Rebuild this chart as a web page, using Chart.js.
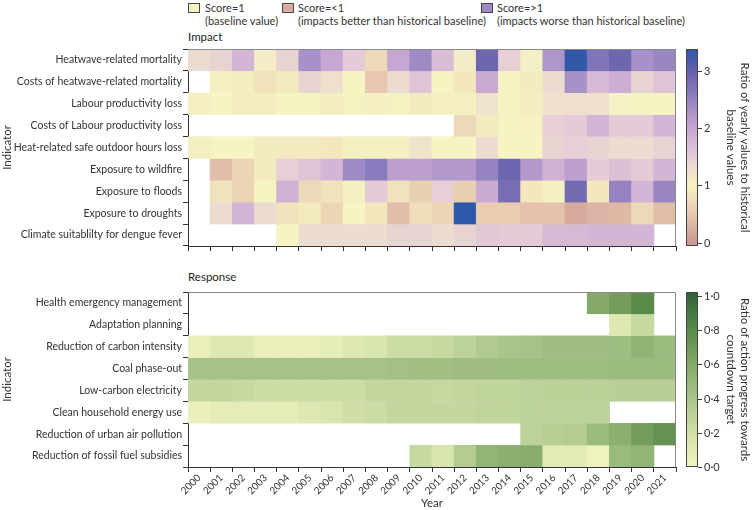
<!DOCTYPE html>
<html>
<head>
<meta charset="utf-8">
<script src="https://cdn.jsdelivr.net/npm/chart.js@4.4.1/dist/chart.umd.min.js"></script>
<style>
  body { margin: 0; width: 753px; height: 510px; position: relative; background: #fff; overflow: hidden;
         font-family: Lato, "Liberation Sans", sans-serif; color: #333; }
  .panel { position: absolute; left: 0; width: 753px; }
  .lg { position: absolute; font-size: 11px; line-height: 13px; white-space: nowrap; color: #333; }
  .sw { position: absolute; width: 10px; height: 8px; border: 1px solid #444; }
  .ttl { position: absolute; left: 188px; font-size: 11.5px; color: #222; }
</style>
</head>
<body>
<div class="sw" style="left:188px;top:3px;background:#f6f2c4"></div>
<div class="lg" style="left:205px;top:1px">Score=1<br>(baseline value)</div>
<div class="sw" style="left:282px;top:3px;background:#d8aba3"></div>
<div class="lg" style="left:298px;top:1px">Score=&lt;1<br>(impacts better than historical baseline)</div>
<div class="sw" style="left:481px;top:3px;background:#a189c6"></div>
<div class="lg" style="left:497px;top:1px">Score=&gt;1<br>(impacts worse than historical baseline)</div>

<div class="ttl" style="top:30px">Impact</div>
<div class="ttl" style="top:270px">Response</div>

<div class="panel" style="top:40px;height:215px"><canvas id="impact"></canvas></div>
<div class="panel" style="top:282px;height:228px"><canvas id="response"></canvas></div>

<script>
var years = ["2000", "2001", "2002", "2003", "2004", "2005", "2006", "2007", "2008", "2009", "2010",
             "2011", "2012", "2013", "2014", "2015", "2016", "2017", "2018", "2019", "2020", "2021"];

var impactLabels = ["Heatwave-related mortality", "Costs of heatwave-related mortality", "Labour productivity loss",
                    "Costs of Labour productivity loss", "Heat-related safe outdoor hours loss", "Exposure to wildfire",
                    "Exposure to floods", "Exposure to droughts", "Climate suitablilty for dengue fever"];
var responseLabels = ["Health emergency management", "Adaptation planning", "Reduction of carbon intensity",
                      "Coal phase-out", "Low-carbon electricity", "Clean household energy use",
                      "Reduction of urban air pollution", "Reduction of fossil fuel subsidies"];

// impact: ratio of yearly values to historical baseline
var heatwaveMortality = [1.3, 1.4, 1.8, 1.1, 1.4, 2.3, 2.0, 1.5, 0.7, 2.0, 2.4, 1.7, 1.1, 2.9, 1.45, 1.05, 2.25, 3.35, 2.7, 2.9, 2.3, 2.45];
var heatwaveCosts     = [null, 0.95, 0.92, 0.8, 0.9, 1.4, 1.25, 1.0, 0.5, 1.3, 1.6, 1.0, 0.85, 1.95, 1.0, 0.9, 1.3, 2.3, 1.75, 1.9, 1.4, 1.6];
var labourLoss        = [0.95, 1.0, 0.92, 0.92, 1.0, 1.0, 0.92, 0.98, 0.95, 0.98, 0.9, 0.95, 0.95, 1.2, 1.0, 0.92, 1.25, 1.25, 1.25, 1.02, 1.0, 1.0];
var labourCosts       = [null, null, null, null, null, null, null, null, null, null, null, null, 0.7, 0.9, 1.0, 0.97, 1.45, 1.5, 1.8, 1.5, 1.5, 1.8];
var safeHoursLoss     = [0.95, 1.0, 1.0, 0.9, 0.9, 0.9, 0.85, 0.95, 0.95, 0.95, 1.2, 1.0, 1.0, 1.3, 1.0, 1.0, 1.4, 1.45, 1.4, 1.3, 1.3, 1.4];
var wildfire          = [null, 0.4, 0.65, 0.9, 1.45, 1.6, 1.8, 2.4, 2.6, 2.1, 2.1, 2.2, 2.2, 2.5, 2.9, 2.2, 1.85, 2.1, 1.5, 1.65, 1.5, 1.8];
var floods            = [null, 0.8, 0.65, 1.0, 1.85, 0.7, 0.8, 0.95, 1.5, 0.8, 0.6, 1.45, 0.6, 1.95, 2.8, 0.85, 0.95, 2.85, 0.85, 2.5, 1.8, 2.45];
var droughts          = [null, 1.3, 1.8, 1.3, 0.8, 0.9, 0.65, 1.0, 0.85, 0.4, 0.75, 0.65, 3.38, 0.55, 0.55, 0.45, 0.45, 0.2, 0.3, 0.35, 0.7, 0.4];
var dengue            = [null, null, null, null, 1.0, 1.3, 1.3, 1.3, 1.3, 1.4, 1.4, 1.3, 1.4, 1.55, 1.5, 1.5, 1.75, 1.75, 1.8, 1.8, 1.8, null];

// response: ratio of action progress towards countdown target
var emergencyMgmt      = [null, null, null, null, null, null, null, null, null, null, null, null, null, null, null, null, null, null, 0.6, 0.68, 0.8, null];
var adaptationPlanning = [null, null, null, null, null, null, null, null, null, null, null, null, null, null, null, null, null, null, null, 0.12, 0.25, null];
var carbonIntensity    = [0.05, 0.12, 0.12, 0.06, 0.06, 0.06, 0.07, 0.12, 0.15, 0.22, 0.22, 0.25, 0.3, 0.36, 0.4, 0.42, 0.45, 0.45, 0.45, 0.46, 0.53, 0.48];
var coalPhaseOut       = [0.42, 0.42, 0.42, 0.42, 0.42, 0.42, 0.42, 0.42, 0.42, 0.43, 0.44, 0.44, 0.45, 0.45, 0.46, 0.46, 0.46, 0.46, 0.46, 0.47, 0.47, 0.47];
var lowCarbonElec      = [0.26, 0.26, 0.25, 0.22, 0.22, 0.22, 0.22, 0.22, 0.26, 0.27, 0.27, 0.25, 0.27, 0.28, 0.28, 0.3, 0.31, 0.31, 0.31, 0.32, 0.32, 0.32];
var cleanHousehold     = [0.05, 0.08, 0.08, 0.08, 0.08, 0.13, 0.15, 0.2, 0.22, 0.26, 0.26, 0.26, 0.27, 0.28, 0.28, 0.29, 0.3, 0.3, 0.3, null, null, null];
var urbanAir           = [null, null, null, null, null, null, null, null, null, null, null, null, null, null, null, 0.3, 0.33, 0.35, 0.48, 0.55, 0.68, 0.75];
var fossilSubsidies    = [null, null, null, null, null, null, null, null, null, null, 0.25, 0.15, 0.35, 0.52, 0.56, 0.58, 0.1, 0.1, 0.03, 0.48, 0.52, null];

var impactRows = [heatwaveMortality, heatwaveCosts, labourLoss, labourCosts, safeHoursLoss, wildfire, floods, droughts, dengue];
var responseRows = [emergencyMgmt, adaptationPlanning, carbonIntensity, coalPhaseOut, lowCarbonElec, cleanHousehold, urbanAir, fossilSubsidies];

var impactTicks = [0, 1, 2, 3];
var impactTickText = ["0", "1", "2", "3"];
var responseTicks = [0, 0.2, 0.4, 0.6, 0.8, 1.0];
var responseTickText = ["0·0", "0·2", "0·4", "0·6", "0·8", "1·0"];

// colour scales [value, colour]
var impactStops = [[-0.06, "#c8938c"], [0.5, "#e7c7af"], [1.0, "#f6f4c3"], [1.5, "#e5cbd7"],
                   [2.0, "#c7a6d3"], [2.5, "#9483c0"], [3.0, "#6360ac"], [3.38, "#2e58a8"]];
var responseStops = [[0, "#f4f5c1"], [0.2, "#d0dfa8"], [0.4, "#a9c58b"], [0.6, "#84a96a"],
                     [0.8, "#5b8a4a"], [1.023, "#2d6238"]];

var FONT = 'Lato, "Liberation Sans", sans-serif';
Chart.defaults.font.family = FONT;
Chart.defaults.color = "#333";

function hex(c) {
  return [parseInt(c.substr(1, 2), 16), parseInt(c.substr(3, 2), 16), parseInt(c.substr(5, 2), 16)];
}
function colorAt(stops, v) {
  if (v <= stops[0][0]) return stops[0][1];
  for (var i = 1; i < stops.length; i++) {
    if (v <= stops[i][0]) {
      var t = (v - stops[i - 1][0]) / (stops[i][0] - stops[i - 1][0]);
      var a = hex(stops[i - 1][1]), b = hex(stops[i][1]);
      return "rgb(" + a.map(function(x, k) { return Math.round(x + (b[k] - x) * t); }).join(",") + ")";
    }
  }
  return stops[stops.length - 1][1];
}

function colorbar(stops, ticks, tickText, titleLines) {
  return {
    id: "colorbar",
    afterDraw: function(chart) {
      var ctx = chart.ctx, a = chart.chartArea;
      var vmin = stops[0][0], vmax = stops[stops.length - 1][0];
      var x0 = a.right + 10, w = 12;
      var ypos = function(v) { return a.bottom - (v - vmin) / (vmax - vmin) * (a.bottom - a.top); };
      ctx.save();
      var g = ctx.createLinearGradient(0, a.bottom, 0, a.top);
      stops.forEach(function(s) { g.addColorStop((s[0] - vmin) / (vmax - vmin), s[1]); });
      ctx.fillStyle = g;
      ctx.fillRect(x0, a.top, w, a.bottom - a.top);
      ctx.strokeStyle = "#444";
      ctx.lineWidth = 1;
      ctx.strokeRect(x0 + 0.5, a.top + 0.5, w - 1, a.bottom - a.top - 1);
      ctx.fillStyle = "#333";
      ctx.font = "11px " + FONT;
      ctx.textBaseline = "middle";
      ticks.forEach(function(t, i) {
        var y = Math.round(ypos(t)) + 0.5;
        ctx.beginPath();
        ctx.moveTo(x0 + w, y);
        ctx.lineTo(x0 + w + 4, y);
        ctx.stroke();
        ctx.fillText(tickText[i], x0 + w + 6, y);
      });
      ctx.translate(745, (a.top + a.bottom) / 2);
      ctx.rotate(Math.PI / 2);
      ctx.textAlign = "center";
      ctx.font = "11.5px " + FONT;
      titleLines.forEach(function(t, i) { ctx.fillText(t, 0, i * 14); });
      ctx.restore();
    }
  };
}

var frame = {
  id: "frame",
  afterDraw: function(chart) {
    var ctx = chart.ctx, a = chart.chartArea;
    ctx.save();
    ctx.strokeStyle = "#888";
    ctx.lineWidth = 1;
    ctx.beginPath();
    ctx.moveTo(a.left, a.top + 0.5);
    ctx.lineTo(a.right - 0.5, a.top + 0.5);
    ctx.lineTo(a.right - 0.5, a.bottom);
    ctx.stroke();
    ctx.restore();
  }
};

function heatmap(id, labels, rows, stops, showYears, xHeight, padTop, bar) {
  var datasets = rows.map(function(vals, r) {
    return {
      data: vals.map(function(v) { return v === null ? null : [r - 0.51, r + 0.51]; }),
      backgroundColor: vals.map(function(v) { return v === null ? "rgba(0,0,0,0)" : colorAt(stops, v); }),
      yAxisID: "yv",
      grouped: false,
      barPercentage: 1.04,
      categoryPercentage: 1,
      borderWidth: 0
    };
  });
  return new Chart(document.getElementById(id), {
    type: "bar",
    data: { labels: years, datasets: datasets },
    options: {
      responsive: true,
      maintainAspectRatio: false,
      animation: false,
      layout: { padding: { left: 0, right: 77, top: padTop, bottom: 0 } },
      plugins: { legend: { display: false }, tooltip: { enabled: false } },
      scales: {
        x: {
          type: "category",
          offset: true,
          grid: { offset: true, drawOnChartArea: false, tickLength: 5, color: "#333" },
          border: { color: "#333" },
          ticks: { display: showYears, minRotation: 45, maxRotation: 45, padding: 0, font: { size: 10 }, color: "#333" },
          title: { display: showYears, text: "Year", padding: 0, font: { size: 11.5 }, color: "#333" },
          afterFit: function(s) { s.height = xHeight; }
        },
        y: {
          type: "category",
          labels: labels,
          offset: true,
          grid: { offset: true, drawOnChartArea: false, tickLength: 5, color: "#333" },
          border: { color: "#333" },
          ticks: { padding: 1, font: { size: 10.5 }, color: "#333" },
          title: { display: true, text: "Indicator", padding: 0, font: { size: 11.5 }, color: "#333" },
          afterFit: function(s) { s.width = 188; }
        },
        yv: { type: "linear", display: false, reverse: true, min: -0.5, max: labels.length - 0.5 }
      }
    },
    plugins: [frame, bar]
  });
}

heatmap("impact", impactLabels, impactRows, impactStops, false, 9, 9,
        colorbar(impactStops, impactTicks, impactTickText, ["Ratio of yearly values to historical", "baseline values"]));
heatmap("response", responseLabels, responseRows, responseStops, true, 43, 10,
        colorbar(responseStops, responseTicks, responseTickText, ["Ratio of action progress towards", "countdown target"]));
</script>
</body>
</html>
